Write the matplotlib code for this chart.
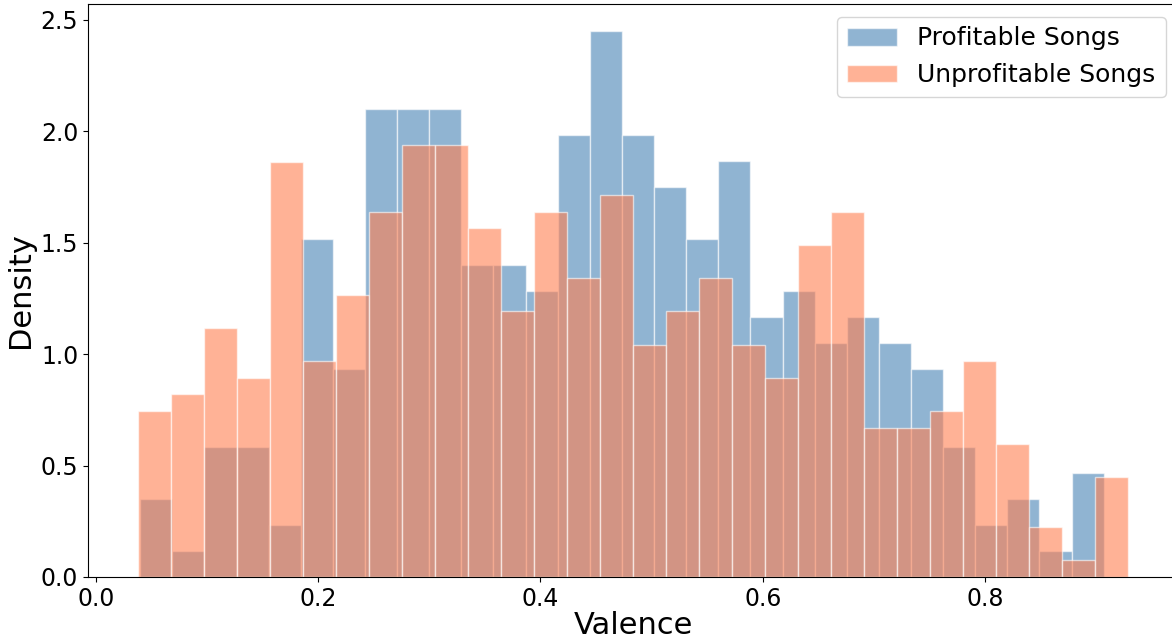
import numpy as np
import matplotlib
matplotlib.use("Agg")
import matplotlib.pyplot as plt

# Histogram counts (30 bins each)
profit_range = (0.0400, 0.9065)
profit_counts = [3, 1, 5, 5, 2, 13, 8, 18, 18, 18, 12, 12, 11, 17, 21,
                 17, 15, 13, 16, 10, 11, 9, 10, 9, 8, 5, 2, 3, 1, 4]

unprofit_range = (0.0376, 0.9288)
unprofit_counts = [10, 11, 15, 12, 25, 13, 17, 22, 26, 26, 21, 16, 22, 18, 23,
                   14, 16, 18, 14, 12, 20, 22, 9, 9, 10, 13, 8, 3, 1, 6]

xticks = [0.0, 0.2, 0.4, 0.6, 0.8]
yticks = [0.0, 0.5, 1.0, 1.5, 2.0, 2.5]


def bins_for(rng, counts):
    edges = np.linspace(rng[0], rng[1], len(counts) + 1)
    centers = (edges[:-1] + edges[1:]) / 2
    return edges, centers


fig = plt.figure(figsize=(11.72, 6.42), dpi=100)
ax = fig.add_axes([88 / 1172, 65 / 642, (1178 - 88) / 1172, (577 - 4) / 642])

edges, centers = bins_for(profit_range, profit_counts)
ax.hist(centers, bins=edges, weights=profit_counts, density=True,
        color="steelblue", alpha=0.6, edgecolor="white", linewidth=1,
        label="Profitable Songs")

edges, centers = bins_for(unprofit_range, unprofit_counts)
ax.hist(centers, bins=edges, weights=unprofit_counts, density=True,
        color="coral", alpha=0.6, edgecolor="white", linewidth=1,
        label="Unprofitable Songs")

ax.set_xticks(xticks)
ax.set_yticks(yticks)
ax.tick_params(labelsize=17)
ax.set_xlabel("Valence", fontsize=22, labelpad=0)
ax.set_ylabel("Density", fontsize=22, labelpad=4)
ax.legend(fontsize=18, loc="upper right")

fig.savefig("out.png", dpi=100)
